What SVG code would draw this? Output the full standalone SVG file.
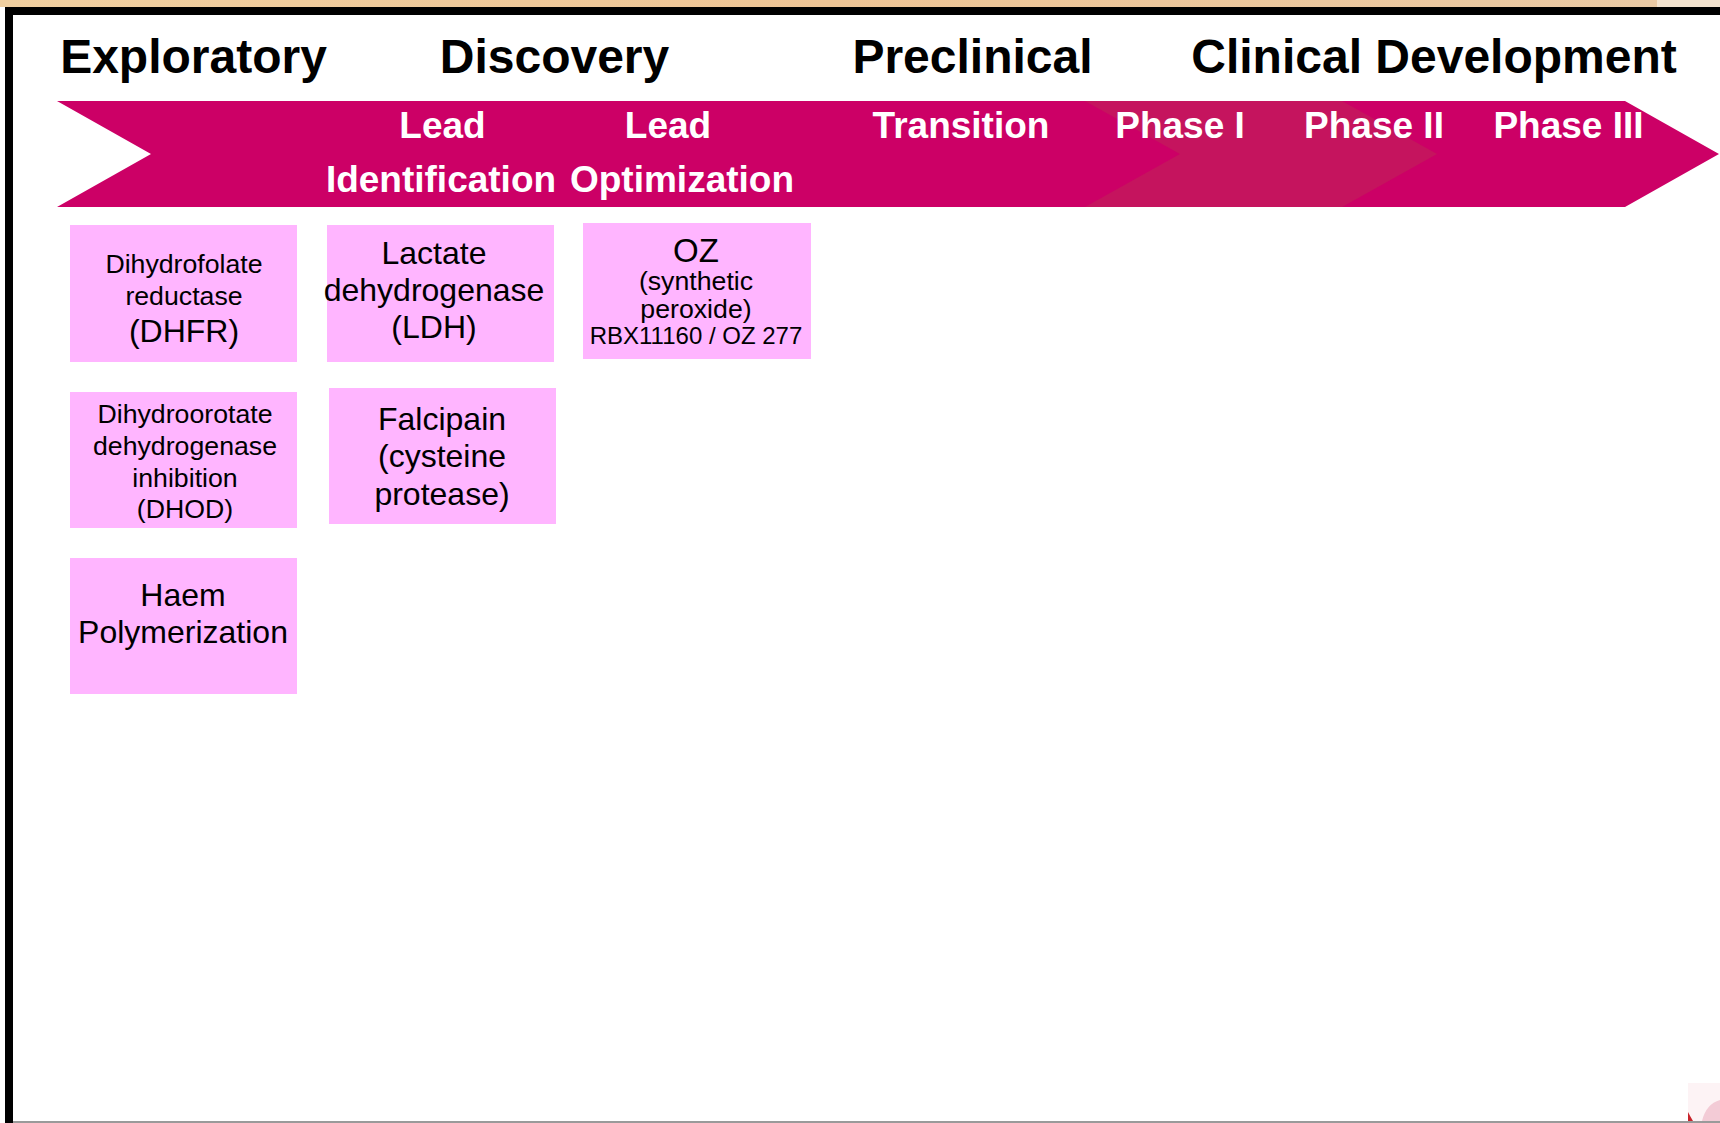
<svg xmlns="http://www.w3.org/2000/svg" width="1720" height="1123" viewBox="0 0 1720 1123">
  <defs>
    <linearGradient id="topStrip" x1="0" y1="0" x2="1" y2="0">
      <stop offset="0" stop-color="#f0cfa0"/>
      <stop offset="0.5" stop-color="#edc495"/>
      <stop offset="1" stop-color="#e9c9a4"/>
    </linearGradient>
  </defs>
  <style>
    .title { font-family: "Liberation Sans", Arial, sans-serif; font-weight: bold; font-size: 48px; fill: #000; text-anchor: middle; }
    .stage { font-family: "Liberation Sans", Arial, sans-serif; font-weight: bold; font-size: 37px; fill: #fff; text-anchor: middle; }
    .box { fill: #ffb5ff; }
    .lbl { font-family: "Liberation Sans", Arial, sans-serif; fill: #000; text-anchor: middle; }
    .s26 { font-size: 26.7px; }
    .s31 { font-size: 32px; }
    .s23 { font-size: 24px; }
  </style>

  <!-- page background -->
  <rect x="0" y="0" width="1720" height="1123" fill="#ffffff"/>
  <rect x="0" y="0" width="1657" height="7" fill="url(#topStrip)"/>
  <rect x="1657" y="0" width="63" height="7" fill="#f3e3cf"/>

  <!-- frame: heavy top and left rules, thin grey base rule -->
  <rect x="5" y="7" width="1715" height="8" fill="#000"/>
  <rect x="5" y="7" width="8" height="1116" fill="#000"/>
  <rect x="13" y="1121" width="1707" height="2" fill="#9a9a9a"/>

  <!-- corner ornament -->
  <g id="corner-ornament">
    <rect x="1688" y="1083" width="32" height="38" fill="#fdf3f5"/>
    <path d="M1688,1121 L1688,1112 Q1690,1116 1693,1121 Z" fill="#c8242b"/>
    <path d="M1720,1100 Q1706,1104 1702,1121 L1720,1121 Z" fill="#f3cbd6"/>
  </g>

  <!-- phase headings -->
  <g id="headings">
    <text class="title" x="193.5" y="73">Exploratory</text>
    <text class="title" x="554.5" y="73">Discovery</text>
    <text class="title" x="972.5" y="73">Preclinical</text>
    <text class="title" x="1434" y="73">Clinical Development</text>
  </g>

  <!-- pipeline band -->
  <g id="pipeline-band">
    <polygon points="57,101 1625,101 1719,154 1625,207 57,207 151,154" fill="#cc0066"/>
    <polygon points="1085,101 1342,101 1437,154 1342,207 1085,207 1180,154" fill="#c5145e"/>
    <text class="stage" x="442.5" y="138">Lead</text>
    <text class="stage" x="441" y="192">Identification</text>
    <text class="stage" x="668" y="138">Lead</text>
    <text class="stage" x="682" y="192">Optimization</text>
    <text class="stage" x="961" y="138">Transition</text>
    <text class="stage" x="1180" y="138">Phase I</text>
    <text class="stage" x="1374" y="138">Phase II</text>
    <text class="stage" x="1568.5" y="138">Phase III</text>
  </g>

  <!-- target boxes -->
  <g id="dhfr">
    <rect class="box" x="70" y="225" width="227" height="137"/>
    <text class="lbl s26" x="184" y="273">Dihydrofolate</text>
    <text class="lbl s26" x="184" y="305">reductase</text>
    <text class="lbl s31" x="184" y="342">(DHFR)</text>
  </g>

  <g id="dhod">
    <rect class="box" x="70" y="392" width="227" height="136"/>
    <text class="lbl s26" x="185" y="423">Dihydroorotate</text>
    <text class="lbl s26" x="185" y="455">dehydrogenase</text>
    <text class="lbl s26" x="185" y="487">inhibition</text>
    <text class="lbl s26" x="185" y="518">(DHOD)</text>
  </g>

  <g id="haem">
    <rect class="box" x="70" y="558" width="227" height="136"/>
    <text class="lbl s31" x="183" y="606">Haem</text>
    <text class="lbl s31" x="183" y="643">Polymerization</text>
  </g>

  <g id="ldh">
    <rect class="box" x="327" y="225" width="227" height="137"/>
    <text class="lbl s31" x="434" y="264">Lactate</text>
    <text class="lbl s31" x="434" y="301">dehydrogenase</text>
    <text class="lbl s31" x="434" y="338">(LDH)</text>
  </g>

  <g id="falcipain">
    <rect class="box" x="329" y="388" width="227" height="136"/>
    <text class="lbl s31" x="442" y="430">Falcipain</text>
    <text class="lbl s31" x="442" y="467">(cysteine</text>
    <text class="lbl s31" x="442" y="505">protease)</text>
  </g>

  <g id="oz">
    <rect class="box" x="583" y="223" width="228" height="136"/>
    <text class="lbl" style="font-size:33px" x="696" y="262">OZ</text>
    <text class="lbl s26" x="696" y="290">(synthetic</text>
    <text class="lbl s26" x="696" y="318">peroxide)</text>
    <text class="lbl s23" x="696" y="344">RBX11160 / OZ 277</text>
  </g>
</svg>
